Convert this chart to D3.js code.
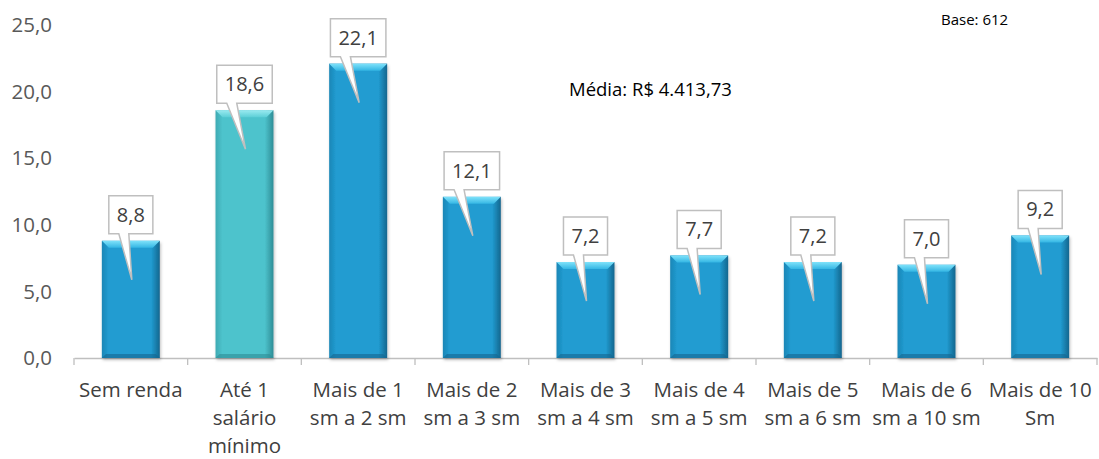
<!DOCTYPE html>
<html>
<head>
<meta charset="utf-8">
<script src="https://cdn.jsdelivr.net/npm/d3@7"></script>
<style>
  body { margin: 0; background: #fff; }
  svg { display: block; font-family: "Open Sans", Lato, sans-serif; }
</style>
</head>
<body>
<div id="chart"></div>
<script>
var categories = [
  ["Sem renda"],
  ["Até 1", "salário", "mínimo"],
  ["Mais de 1", "sm a 2 sm"],
  ["Mais de 2", "sm a 3 sm"],
  ["Mais de 3", "sm a 4 sm"],
  ["Mais de 4", "sm a 5 sm"],
  ["Mais de 5", "sm a 6 sm"],
  ["Mais de 6", "sm a 10 sm"],
  ["Mais de 10", "Sm"]
];
var values = [8.8, 18.6, 22.1, 12.1, 7.2, 7.7, 7.2, 7.0, 9.2];
var highlight = [false, true, false, false, false, false, false, false, false];
var yTicks = [0, 5, 10, 15, 20, 25];
var mediaText = "Média: R$ 4.413,73";
var baseText = "Base: 612";

var width = 1099, height = 459;
var fmt = function(v) { return d3.format(".1f")(v).replace(".", ","); };

var svg = d3.select("#chart").append("svg")
  .attr("width", width)
  .attr("height", height);

var defs = svg.append("defs");
function hGrad(id, edgeL, mid, edgeR) {
  var g = defs.append("linearGradient").attr("id", id)
    .attr("x1", "0").attr("x2", "1").attr("y1", "0").attr("y2", "0");
  g.append("stop").attr("offset", "0").attr("stop-color", edgeL);
  g.append("stop").attr("offset", "0.12").attr("stop-color", mid);
  g.append("stop").attr("offset", "0.85").attr("stop-color", mid);
  g.append("stop").attr("offset", "1").attr("stop-color", edgeR);
}
function vGrad(id, c1, c2) {
  var g = defs.append("linearGradient").attr("id", id)
    .attr("x1", "0").attr("x2", "0").attr("y1", "0").attr("y2", "1");
  g.append("stop").attr("offset", "0").attr("stop-color", c1);
  g.append("stop").attr("offset", "1").attr("stop-color", c2);
}
hGrad("gBlue", "#1b86b6", "#219cd1", "#14668e");
hGrad("gTeal", "#3eaab3", "#4dc3cc", "#2f8d96");
vGrad("topBlue", "#7fe2fa", "#34b6e4");
vGrad("topTeal", "#9aeaf0", "#5ccfd7");
var sh = defs.append("filter").attr("id", "shadow")
  .attr("x", "-20%").attr("y", "-20%").attr("width", "140%").attr("height", "140%");
sh.append("feDropShadow").attr("dx", 1).attr("dy", 2).attr("stdDeviation", 1.5)
  .attr("flood-color", "#000").attr("flood-opacity", 0.25);

var x = d3.scaleBand()
  .domain(d3.range(values.length))
  .range([74, 1097])
  .padding(0);

var y = d3.scaleLinear()
  .domain([0, 25])
  .range([358, 25]);

var barW = x.bandwidth() * 0.51;

// y tick labels
svg.selectAll(".ytick")
  .data(yTicks)
  .enter().append("text")
  .attr("class", "ytick")
  .attr("x", 52)
  .attr("y", function(d) { return y(d); })
  .attr("dy", "0.35em")
  .attr("text-anchor", "end")
  .attr("fill", "#595959")
  .style("font-size", "20.5px")
  .text(fmt);

// x axis
var xAxis = d3.axisBottom(x)
  .tickSize(0)
  .tickFormat("");
var ax = svg.append("g").attr("transform", "translate(0," + y(0) + ")").call(xAxis);
ax.select(".domain").attr("stroke", "#bfbfbf").attr("stroke-width", 1.3);
var bounds = d3.range(values.length + 1).map(function(i) { return 74 + i * x.step(); });
ax.selectAll(".sep")
  .data(bounds)
  .enter().append("line")
  .attr("class", "sep")
  .attr("x1", function(d) { return d; })
  .attr("x2", function(d) { return d; })
  .attr("y1", 0)
  .attr("y2", 7)
  .attr("stroke", "#bfbfbf")
  .attr("stroke-width", 1.3);

// bars
var bars = svg.selectAll(".bar")
  .data(values)
  .enter().append("g")
  .attr("class", "bar")
  .attr("transform", function(d, i) { return "translate(" + (x(i) + (x.bandwidth() - barW) / 2) + ",0)"; });

bars.append("rect")
  .attr("x", 0)
  .attr("y", function(d) { return y(d); })
  .attr("width", barW)
  .attr("height", function(d) { return y(0) - y(d); })
  .attr("fill", function(d, i) { return highlight[i] ? "url(#gTeal)" : "url(#gBlue)"; })
  .attr("filter", "url(#shadow)");

// top bevel
bars.append("path")
  .attr("d", function(d) {
    var t = y(d), b = 7;
    return "M0," + t + "L" + barW + "," + t + "L" + (barW - b) + "," + (t + b) + "L" + b + "," + (t + b) + "Z";
  })
  .attr("fill", function(d, i) { return highlight[i] ? "url(#topTeal)" : "url(#topBlue)"; });

// bottom bevel
bars.append("path")
  .attr("d", function(d) {
    var t = y(0), b = 4;
    return "M0," + t + "L" + barW + "," + t + "L" + (barW - b) + "," + (t - b) + "L" + b + "," + (t - b) + "Z";
  })
  .attr("fill", function(d, i) { return highlight[i] ? "#2f8c94" : "#156690"; })
  .attr("opacity", 0.6);

// callouts
var callouts = svg.selectAll(".callout")
  .data(values)
  .enter().append("g")
  .attr("class", "callout");

callouts.each(function(d, i) {
  var g = d3.select(this);
  var cx = x(i) + x.bandwidth() / 2;
  var top = y(d);
  var txt = g.append("text")
    .attr("x", cx)
    .attr("y", top - 26)
    .attr("dy", "0.35em")
    .attr("text-anchor", "middle")
    .attr("fill", "#404040")
    .style("font-size", "20px")
    .text(fmt(d));
  var w = txt.node().getComputedTextLength() + 16;
  var bx = cx - w / 2, bTop = top - 45, bBot = top - 7;
  var pathD = "M" + bx + "," + bTop +
    "L" + (bx + w) + "," + bTop +
    "L" + (bx + w) + "," + bBot +
    "L" + (bx + 20) + "," + bBot +
    "L" + (cx + 1) + "," + (top + 39) +
    "L" + (bx + 10) + "," + bBot +
    "L" + bx + "," + bBot + "Z";
  g.insert("path", "text")
    .attr("d", pathD)
    .attr("fill", "#fff")
    .attr("stroke", "#bfbfbf")
    .attr("stroke-width", 1.5);
});

// category labels
var labels = svg.selectAll(".cat")
  .data(categories)
  .enter().append("text")
  .attr("class", "cat")
  .attr("text-anchor", "middle")
  .attr("fill", "#404040")
  .style("font-size", "20.5px");
labels.selectAll("tspan")
  .data(function(d, i) { return d.map(function(s) { return { s: s, i: i }; }); })
  .enter().append("tspan")
  .attr("x", function(d) { return x(d.i) + x.bandwidth() / 2; })
  .attr("y", function(d, j) { return 390 + j * 28; })
  .attr("dy", "0.35em")
  .text(function(d) { return d.s; });

svg.append("text")
  .attr("x", 569).attr("y", 90).attr("dy", "0.35em")
  .attr("fill", "#000")
  .style("font-size", "18.5px")
  .text(mediaText);

svg.append("text")
  .attr("x", 941).attr("y", 20).attr("dy", "0.35em")
  .attr("fill", "#000")
  .style("font-size", "15px")
  .text(baseText);
</script>
</body>
</html>
